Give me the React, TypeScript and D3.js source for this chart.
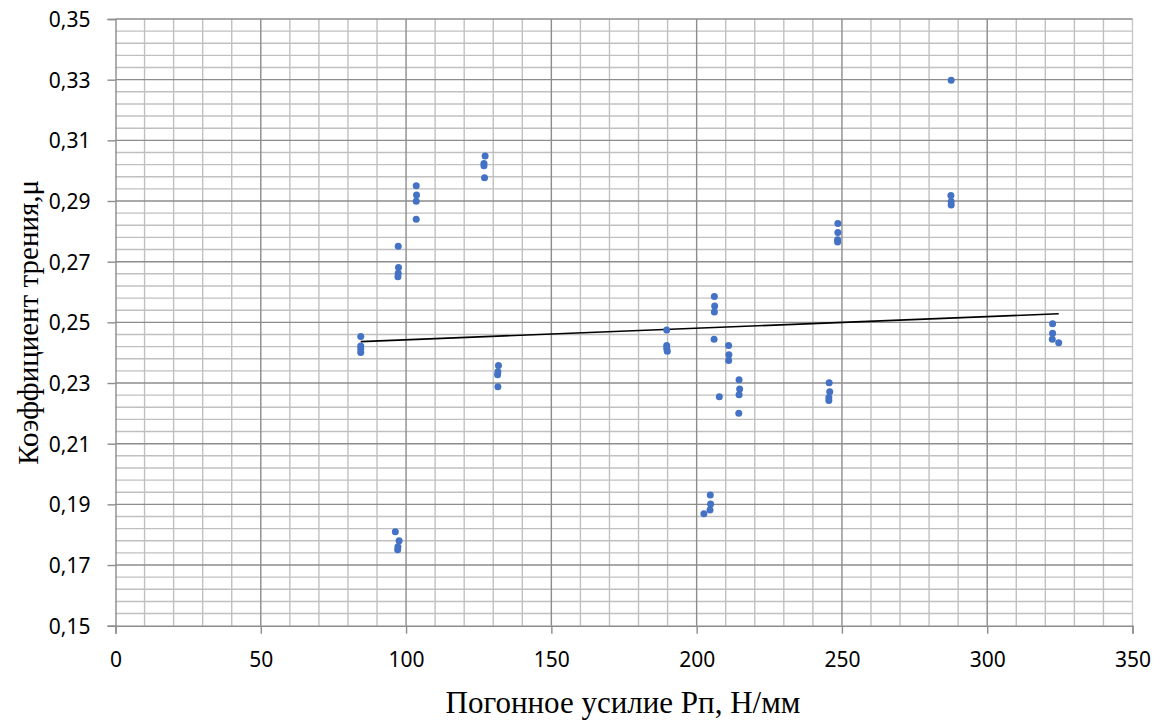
import React, { useEffect, useRef } from "react";
import * as d3 from "d3";

// Погонное усилие (x) and коэффициент трения (y)
const xValues = [
  84.4, 84.4, 84.4, 84.4,
  97.3, 97.4, 97.3, 97.2,
  103.5, 103.6, 103.5, 103.5,
  127.2, 126.8, 126.8, 127.0,
  131.8, 131.6, 131.5, 131.6,
  96.3, 97.6, 97.2, 97.1,
  189.7, 189.7, 189.7, 189.9,
  206.1, 206.2, 206.1, 206.0,
  211.0, 211.1, 211.0,
  207.8,
  214.6, 214.8, 214.6, 214.5,
  204.7, 204.8, 204.6, 202.5,
  248.6, 248.6, 248.5, 248.5,
  245.6, 245.8, 245.5, 245.5,
  287.6, 287.5, 287.6, 287.6,
  322.5, 322.5, 322.4, 324.6,
];
const yValues = [
  0.2453, 0.2422, 0.2412, 0.2401,
  0.2751, 0.2681, 0.2662, 0.265,
  0.295, 0.292, 0.2899, 0.284,
  0.3048, 0.3024, 0.3016, 0.2977,
  0.2358, 0.2337, 0.2327, 0.2288,
  0.181, 0.178, 0.176, 0.175,
  0.2475, 0.2424, 0.2414, 0.2405,
  0.2585, 0.2554, 0.2534, 0.2444,
  0.2424, 0.2393, 0.2374,
  0.2255,
  0.2311, 0.228, 0.2261, 0.22,
  0.1931, 0.1901, 0.1881, 0.1869,
  0.2826, 0.2796, 0.2772, 0.2765,
  0.2301, 0.2271, 0.2252, 0.2242,
  0.3298, 0.2918, 0.2898, 0.2887,
  0.2495, 0.2464, 0.2444, 0.2433,
];

const xTicks = [0, 50, 100, 150, 200, 250, 300, 350];
const yTicks = [0.15, 0.17, 0.19, 0.21, 0.23, 0.25, 0.27, 0.29, 0.31, 0.33, 0.35];

const xTitle = "Погонное усилие Рп, Н/мм";
const yTitle = "Коэффициент трения,μ";

const width = 1165;
const height = 720;
const margin = { top: 19, right: 32.5, bottom: 94.3, left: 115.5 };

const App = () => {
  const svgRef = useRef<SVGSVGElement>(null);

  useEffect(() => {
    document.body.style.margin = "0";
    const svg = d3.select(svgRef.current);
    svg.selectAll("*").remove();

    const x = d3.scaleLinear().domain([0, 350]).range([margin.left, width - margin.right]);
    const y = d3.scaleLinear().domain([0.15, 0.35]).range([height - margin.bottom, margin.top]);

    const [x0, x1] = x.range();
    const [y0, y1] = y.range();

    // minor grid
    const minorX = d3.range(0, 351, 10).filter((v) => v % 50 !== 0);
    const minorY = d3.range(0, 51).map((i) => 0.15 + i * 0.004).filter((_, i) => i % 5 !== 0);

    const grid = svg.append("g");
    grid.selectAll(".mx").data(minorX).join("line")
      .attr("x1", (d) => x(d)).attr("x2", (d) => x(d))
      .attr("y1", y1).attr("y2", y0)
      .attr("stroke", "#c0c0c0").attr("stroke-width", 1.4);
    grid.selectAll(".my").data(minorY).join("line")
      .attr("x1", x0).attr("x2", x1)
      .attr("y1", (d) => y(d)).attr("y2", (d) => y(d))
      .attr("stroke", "#c0c0c0").attr("stroke-width", 1.4);

    // major grid
    grid.selectAll(".Mx").data(xTicks.slice(1)).join("line")
      .attr("x1", (d) => x(d)).attr("x2", (d) => x(d))
      .attr("y1", y1).attr("y2", y0)
      .attr("stroke", (d) => (d === 350 ? "#c8c8c8" : "#8c8c8c")).attr("stroke-width", 1.4);
    grid.selectAll(".My").data(yTicks.slice(1)).join("line")
      .attr("x1", x0).attr("x2", x1)
      .attr("y1", (d) => y(d)).attr("y2", (d) => y(d))
      .attr("stroke", "#8c8c8c").attr("stroke-width", 1.4);

    // axes
    const yAxis = d3.axisLeft(y).tickValues(yTicks).tickSize(8)
      .tickFormat((d) => d3.format(".2f")(d as number).replace(".", ","));
    const xAxis = d3.axisBottom(x).tickValues(xTicks).tickSize(8).tickFormat((d) => String(d));

    const ya = svg.append("g").attr("transform", `translate(${x0},0)`).call(yAxis);
    const xa = svg.append("g").attr("transform", `translate(0,${y0})`).call(xAxis);
    [ya, xa].forEach((a) => {
      a.select(".domain").attr("stroke", "#8c8c8c").attr("stroke-width", 1.4);
      a.selectAll(".tick line").attr("stroke", "#8c8c8c").attr("stroke-width", 1.4);
      a.selectAll("text")
        .attr("font-family", "'Noto Sans', 'Open Sans', sans-serif")
        .attr("font-size", 21)
        .attr("fill", "#000");
    });
    ya.selectAll("text").attr("x", -25).attr("dy", "0.35em");
    xa.selectAll("text").attr("y", 26).attr("dy", "0.71em");
    ya.selectAll(".tick line").attr("x2", -8);

    // trendline (least squares)
    const pts = xValues.map((v, i) => [v, yValues[i]] as [number, number]);
    const mx = d3.mean(xValues)!;
    const my = d3.mean(yValues)!;
    const slope = d3.sum(pts, (p) => (p[0] - mx) * (p[1] - my)) / d3.sum(pts, (p) => (p[0] - mx) ** 2);
    const intercept = my - slope * mx;
    const [ex0, ex1] = d3.extent(xValues) as [number, number];
    svg.append("line")
      .attr("x1", x(ex0)).attr("y1", y(intercept + slope * ex0))
      .attr("x2", x(ex1)).attr("y2", y(intercept + slope * ex1))
      .attr("stroke", "#000").attr("stroke-width", 1.6);

    // points
    svg.append("g").selectAll("circle").data(pts).join("circle")
      .attr("cx", (d) => x(d[0])).attr("cy", (d) => y(d[1]))
      .attr("r", 3.5).attr("fill", "#4472c4");

    // titles
    svg.append("text")
      .attr("x", 623).attr("y", 713)
      .attr("text-anchor", "middle")
      .attr("font-family", "'Liberation Serif', 'Times New Roman', serif")
      .attr("font-size", 31)
      .text(xTitle);
    svg.append("text")
      .attr("transform", `translate(38,${(y0 + y1) / 2}) rotate(-90)`)
      .attr("text-anchor", "middle")
      .attr("font-family", "'Liberation Serif', 'Times New Roman', serif")
      .attr("font-size", 29)
      .text(yTitle);
  }, []);

  return <svg ref={svgRef} width={width} height={height} style={{ display: "block", background: "#fff" }} />;
};

export default App;
